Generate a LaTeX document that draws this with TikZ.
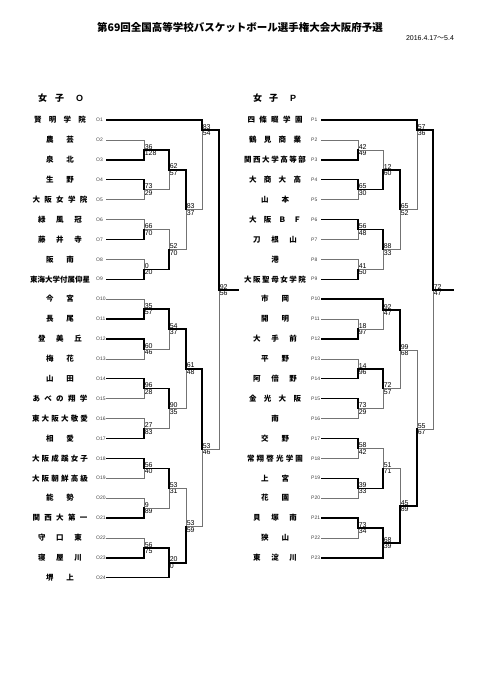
\documentclass[tikz,border=0pt]{standalone}
\usepackage{fontspec}
\setmainfont{Liberation Sans}
\newfontfamily\jp{Noto Sans CJK JP}
\usepackage{tikz}
\usetikzlibrary{calc}
\usepackage{xcolor}
\definecolor{loser}{gray}{0.45}

% one game: name, x of the joint, y of the line going on, upper and lower score
\newcommand{\bout}[5]{%
  \coordinate (#1) at (#2,#3);
  \node[score, anchor=south west] (#1u) at (#1) {#4};
  \node[score, anchor=north west] (#1d) at (#1) {#5};}

\begin{document}
\begin{tikzpicture}[x=1pt, y=-1pt,
  team/.style={font=\jp\bfseries\fontsize{7.5}{8}\selectfont, inner sep=0pt},
  code/.style={font=\fontsize{5}{5.5}\selectfont, text=black!75, anchor=west,
    inner sep=0pt, text width=10pt, align=left},
  score/.style={font=\fontsize{7}{7.5}\selectfont, inner sep=0.6pt},
  head/.style={font=\bfseries\fontsize{9}{10}\selectfont, anchor=west, inner sep=0pt},
  win/.style={line width=1.4pt, line cap=rect},
  lose/.style={line width=0.6pt, draw=loser}]
  \useasboundingbox (0,0) rectangle (481,680);

  \node[font=\jp\bfseries\fontsize{10.5}{12}\selectfont] (title) at (240,28)
    {第69回全国高等学校バスケットボール選手権大会大阪府予選};
  \node[font=\fontsize{7}{8}\selectfont] (date) at (430,38) {2016.4.17{\jp ～}5.4};
  \node[head] (headO) at (38,98) {{\jp 女\hspace{8pt}子}\hspace{12pt}O};
  \node[head] (headP) at (253,98) {{\jp 女\hspace{7pt}子}\hspace{12pt}P};

  % teams
  \foreach \bw/\nm [count=\i] in {52/賢 明 学 院, 28/農 芸, 28/泉 北, 28/生 野,
      55/大 阪 女 学 院, 44/緑 風 冠, 44/藤 井 寺, 28/阪 南, 60/東海大学付属仰星,
      28/今 宮, 28/長 尾, 44/登 美 丘, 28/梅 花, 28/山 田, 55/あ べ の 翔 学,
      56/東 大 阪 大 敬 愛, 28/相 愛, 56/大 阪 成 蹊 女 子, 56/大 阪 朝 鮮 高 級,
      28/能 勢, 55/関 西 大 第 一, 44/守 口 東, 44/寝 屋 川, 28/堺 上} {
    \node[team] (On\i) at (60,100.1+19.9*\i) {\makebox[\bw pt][s]{\nm}};
    \node[code] (O\i) at (96,100.1+19.9*\i) {O\i};
  }
  \foreach \bw/\nm [count=\i] in {55/四 條 畷 学 園, 52/鶴 見 商 業, 62/関 西 大 学 高 等 部,
      52/大 商 大 高, 28/山 本, 52/大 阪 Ｂ Ｆ, 44/刀 根 山, 7.5/港, 62/大 阪 聖 母 女 学 院,
      28/市 岡, 28/開 明, 44/大 手 前, 28/平 野, 44/阿 倍 野, 52/金 光 大 阪, 7.5/南,
      28/交 野, 56/常 翔 啓 光 学 園, 28/上 宮, 28/花 園, 44/貝 塚 南, 28/狭 山, 44/東 淀 川} {
    \node[team] (Pn\i) at (275,100.1+19.9*\i) {\makebox[\bw pt][s]{\nm}};
    \node[code] (P\i) at (311,100.1+19.9*\i) {P\i};
  }

  % games, girls O
  \bout{oa}{144}{149.9}{36}{128}
  \bout{ob}{144}{189.7}{73}{29}
  \bout{oc}{144}{229.5}{66}{70}
  \bout{od}{144}{269.3}{0}{20}
  \bout{oe}{144}{309.1}{35}{57}
  \bout{of}{144}{348.9}{60}{46}
  \bout{og}{144}{388.7}{96}{28}
  \bout{oh}{144}{428.5}{27}{83}
  \bout{oi}{144}{468.3}{56}{40}
  \bout{oj}{144}{508.1}{9}{89}
  \bout{ok}{144}{547.9}{56}{75}
  \bout{ol}{169}{169.8}{62}{57}
  \bout{om}{169}{249.4}{52}{70}
  \bout{on}{169}{329.0}{54}{37}
  \bout{oo}{169}{408.6}{90}{35}
  \bout{op}{169}{488.2}{53}{31}
  \bout{oq}{169}{562.8}{20}{0}
  \bout{or}{186}{209.6}{83}{37}
  \bout{os}{186}{368.8}{61}{48}
  \bout{ot}{186}{526.5}{53}{59}
  \bout{ou}{202}{130}{83}{54}
  \bout{ov}{202}{449}{53}{46}
  \bout{ow}{219}{290}{92}{56}
  \coordinate (oend) at (238,290);

  % games, girls P
  \bout{pa}{358}{149.9}{42}{49}
  \bout{pb}{358}{189.7}{65}{30}
  \bout{pc}{358}{229.5}{56}{48}
  \bout{pd}{358}{269.3}{41}{50}
  \bout{pe}{358}{329.0}{18}{97}
  \bout{pf}{358}{368.8}{14}{96}
  \bout{pg}{358}{408.6}{73}{29}
  \bout{ph}{358}{448.4}{58}{42}
  \bout{pi}{358}{488.2}{39}{33}
  \bout{pj}{358}{528.0}{73}{34}
  \bout{pk}{383}{169.8}{12}{60}
  \bout{pl}{383}{249.4}{88}{33}
  \bout{pm}{383}{310}{92}{47}
  \bout{pn}{383}{388.7}{72}{57}
  \bout{po}{383}{468.3}{51}{71}
  \bout{pp}{383}{542.9}{68}{39}
  \bout{pq}{400}{209.6}{65}{52}
  \bout{pr}{400}{350}{99}{68}
  \bout{ps}{400}{506}{45}{89}
  \bout{pt}{417}{130}{57}{36}
  \bout{pu}{417}{429}{55}{67}
  \bout{pv}{433}{290}{72}{47}
  \coordinate (pend) at (453,290);

  % lines of the beaten teams first, the winners over them
  \foreach \c/\p in {O2.east/oa, O5.east/ob, O6.east/oc, O8.east/od, O10.east/oe,
      O13.east/of, O15.east/og, O16.east/oh, O19.east/oi, O20.east/oj, O22.east/ok,
      ob/ol, oc/om, of/on, oh/oo, oj/op, om/or, oo/os, op/ot, or/ou, ot/ov, ov/ow,
      P2.east/pa, P5.east/pb, P7.east/pc, P8.east/pd, P11.east/pe, P13.east/pf,
      P16.east/pg, P18.east/ph, P20.east/pi, P22.east/pj, pa/pk, pd/pl, pe/pm,
      pg/pn, ph/po, pl/pq, pn/pr, po/ps, pq/pt, pr/pu, pu/pv}
    \draw[lose] (\c) -- (\c -| \p) -- (\p);
  \foreach \c/\p in {O1.east/ou, O3.east/oa, O4.east/ob, O7.east/oc, O9.east/od,
      O11.east/oe, O12.east/of, O14.east/og, O17.east/oh, O18.east/oi, O21.east/oj,
      O23.east/ok, O24.east/oq, oa/ol, od/om, oe/on, og/oo, oi/op, ok/oq, ol/or,
      on/os, oq/ot, os/ov, ou/ow, ow/oend,
      P1.east/pt, P3.east/pa, P4.east/pb, P6.east/pc, P9.east/pd, P10.east/pm,
      P12.east/pe, P14.east/pf, P15.east/pg, P17.east/ph, P19.east/pi, P21.east/pj,
      P23.east/pp, pb/pk, pc/pl, pf/pn, pi/po, pj/pp, pk/pq, pm/pr, pp/ps, ps/pu,
      pt/pv, pv/pend}
    \draw[win] (\c) -- (\c -| \p) -- (\p);
\end{tikzpicture}
\end{document}
